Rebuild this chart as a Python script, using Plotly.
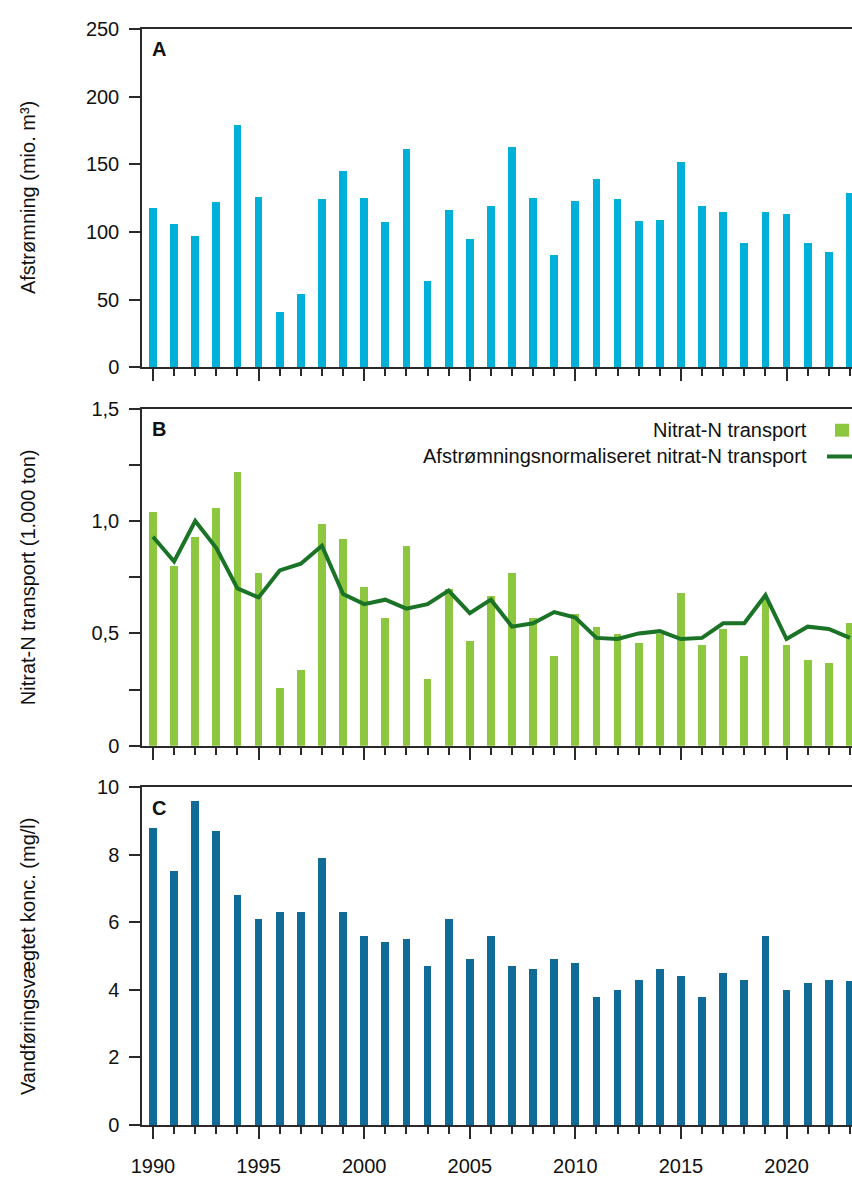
import plotly.graph_objects as go

# ---------------- data ----------------
years = list(range(1990, 2024))

afstroemning = [118, 106, 97, 122, 179, 126, 41, 54, 124, 145,
                125, 107, 161, 64, 116, 95, 119, 163, 125, 83,
                123, 139, 124, 108, 109, 152, 119, 115, 92, 115,
                113, 92, 85, 129]

nitrat_transport = [1.04, 0.80, 0.93, 1.06, 1.22, 0.77, 0.26, 0.34, 0.99, 0.92,
                    0.71, 0.57, 0.89, 0.30, 0.70, 0.47, 0.67, 0.77, 0.57, 0.40,
                    0.59, 0.53, 0.50, 0.46, 0.50, 0.68, 0.45, 0.52, 0.40, 0.66,
                    0.45, 0.385, 0.37, 0.55]

normaliseret = [0.93, 0.82, 1.00, 0.88, 0.70, 0.66, 0.78, 0.81, 0.89, 0.675,
                0.63, 0.65, 0.61, 0.63, 0.69, 0.59, 0.65, 0.53, 0.545, 0.595,
                0.57, 0.48, 0.475, 0.50, 0.51, 0.475, 0.48, 0.545, 0.545, 0.67,
                0.475, 0.53, 0.52, 0.48]

konc = [8.8, 7.5, 9.6, 8.7, 6.8, 6.1, 6.3, 6.3, 7.9, 6.3,
        5.6, 5.4, 5.5, 4.7, 6.1, 4.9, 5.6, 4.7, 4.6, 4.9,
        4.8, 3.8, 4.0, 4.3, 4.6, 4.4, 3.8, 4.5, 4.3, 5.6,
        4.0, 4.2, 4.3, 4.25]

x_ticks = [1990, 1995, 2000, 2005, 2010, 2015, 2020]

yA_ticks = [0, 50, 100, 150, 200, 250]
yB_ticks = [0, 0.25, 0.5, 0.75, 1.0, 1.25, 1.5]
yB_labels = ["0", "", "0,5", "", "1,0", "", "1,5"]
yC_ticks = [0, 2, 4, 6, 8, 10]

title_A = "Afstrømning (mio. m³)"
title_B = "Nitrat-N transport (1.000 ton)"
title_C = "Vandføringsvægtet konc. (mg/l)"
legend_bar = "Nitrat-N transport"
legend_line = "Afstrømningsnormaliseret nitrat-N transport"

# ---------------- style ----------------
FONT = "Liberation Sans, Arial, Helvetica, sans-serif"
AX = "#2a2a2a"
C_A = "#00b0d8"
C_B = "#8dc63f"
C_LINE = "#1a7327"
C_C = "#106c96"
BW = 0.37

W, H = 852, 1177
ML, MR, MT, MB = 142, 0, 29, 43
PW = W - ML - MR
PH = H - MT - MB


def py(pix):
    return (H - MB - pix) / PH


def px(pix):
    return (pix - ML) / PW


fig = go.Figure()
fig.add_trace(go.Bar(x=years, y=afstroemning, marker=dict(color=C_A, line_width=0),
                     width=BW, xaxis="x", yaxis="y", showlegend=False))
fig.add_trace(go.Bar(x=years, y=nitrat_transport, marker=dict(color=C_B, line_width=0),
                     width=BW, xaxis="x2", yaxis="y2", showlegend=False))
fig.add_trace(go.Scatter(x=years, y=normaliseret, mode="lines",
                         line=dict(color=C_LINE, width=4),
                         xaxis="x2", yaxis="y2", showlegend=False))
fig.add_trace(go.Bar(x=years, y=konc, marker=dict(color=C_C, line_width=0),
                     width=BW, xaxis="x3", yaxis="y3", showlegend=False))

xcommon = dict(range=[1989.48, 2023.10], tickmode="array", tickvals=x_ticks,
               ticks="outside", ticklen=12, tickwidth=1.5, tickcolor=AX,
               showline=True, linecolor=AX, linewidth=1.5, mirror=True,
               showgrid=False, zeroline=False,
               minor=dict(dtick=1, tick0=1990, ticks="outside", ticklen=7,
                          tickwidth=1.5, tickcolor=AX, showgrid=False),
               tickfont=dict(family=FONT, size=20, color="#111"))
ycommon = dict(ticks="outside", ticklen=11, tickwidth=1.5, tickcolor=AX,
               showline=True, linecolor=AX, linewidth=1.5, showgrid=False,
               zeroline=False, tickmode="array", ticklabelstandoff=6,
               tickfont=dict(family=FONT, size=20, color="#111"))

domA = [py(370), 1.0]
domB = [py(751.7), py(411.7)]
domC = [0.0, py(793.3)]

fig.update_layout(
    width=W, height=H,
    margin=dict(l=ML, r=MR, t=MT, b=MB),
    paper_bgcolor="white", plot_bgcolor="white",
    bargap=0,
    xaxis=dict(xcommon, anchor="y", showticklabels=False),
    xaxis2=dict(xcommon, anchor="y2", showticklabels=False),
    xaxis3=dict(xcommon, anchor="y3", showticklabels=True, ticklabelstandoff=10),
    yaxis=dict(ycommon, domain=domA, range=[0, 250], tickvals=yA_ticks,
               ticktext=[str(v) for v in yA_ticks], anchor="x"),
    yaxis2=dict(ycommon, domain=domB, range=[0, 1.5], tickvals=yB_ticks,
                ticktext=yB_labels, anchor="x2"),
    yaxis3=dict(ycommon, domain=domC, range=[0, 10], tickvals=yC_ticks,
                ticktext=[str(v) for v in yC_ticks], anchor="x3"),
)

anns = []
# panel letters
for letter, ycen in [("A", 49.5), ("B", 432.5), ("C", 814.5)]:
    anns.append(dict(text=f"<b>{letter}</b>", xref="paper", yref="paper",
                     x=px(150), y=py(ycen), xanchor="left", yanchor="middle",
                     showarrow=False, font=dict(family=FONT, size=20, color="#111")))
# y titles
for t, dom in [(title_A, domA), (title_B, domB), (title_C, domC)]:
    anns.append(dict(text=t, xref="paper", yref="paper", x=px(28),
                     y=(dom[0] + dom[1]) / 2, xanchor="center", yanchor="middle",
                     textangle=-90, showarrow=False,
                     font=dict(family=FONT, size=20, color="#111")))
# legend texts
anns.append(dict(text=legend_bar, xref="paper", yref="paper", x=px(809), y=py(433),
                 xanchor="right", yanchor="middle", showarrow=False,
                 font=dict(family=FONT, size=20, color="#111")))
anns.append(dict(text=legend_line, xref="paper", yref="paper", x=px(809), y=py(460),
                 xanchor="right", yanchor="middle", showarrow=False,
                 font=dict(family=FONT, size=20, color="#111")))
fig.update_layout(annotations=anns)

fig.add_shape(type="rect", xref="paper", yref="paper",
              x0=px(835), x1=px(849), y0=py(440), y1=py(427),
              fillcolor=C_B, line_width=0)
fig.add_shape(type="line", xref="paper", yref="paper",
              x0=px(827), x1=px(870), y0=py(460), y1=py(460),
              line=dict(color=C_LINE, width=4))

fig.write_html(
    "out.html",
    config={"displayModeBar": False},
    post_script="document.body.style.margin='0';document.body.style.overflow='hidden';",
)
